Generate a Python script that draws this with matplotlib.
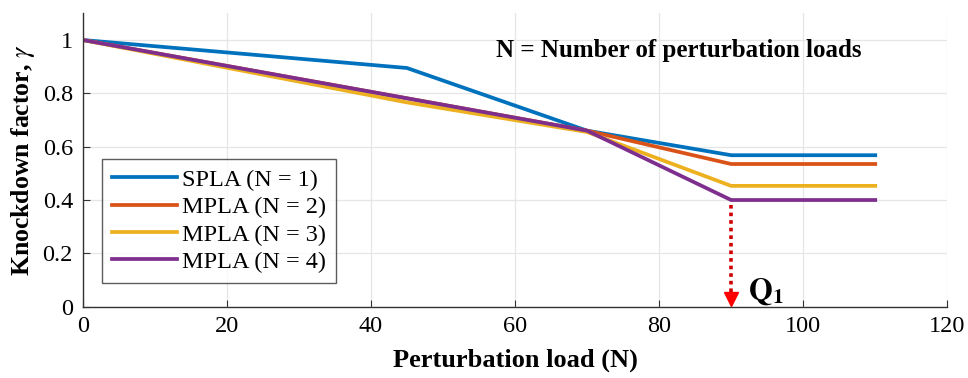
import matplotlib.pyplot as plt

# Data
load_spla = [0, 45, 70, 90, 110]
gamma_spla = [1.0, 0.895, 0.66, 0.568, 0.568]

load_n2 = [0, 70, 90, 110]
gamma_n2 = [1.0, 0.66, 0.535, 0.535]

load_n3 = [0, 45, 70, 90, 110]
gamma_n3 = [1.0, 0.766, 0.655, 0.453, 0.453]

load_n4 = [0, 70, 90, 110]
gamma_n4 = [1.0, 0.66, 0.40, 0.40]

labels = ['SPLA (N = 1)', 'MPLA (N = 2)', 'MPLA (N = 3)', 'MPLA (N = 4)']
colors = ['#0072BD', '#D95319', '#EDB120', '#7E2F8E']
q1_load = 90

plt.rcParams['font.family'] = ['Liberation Serif', 'DejaVu Serif']
plt.rcParams['mathtext.fontset'] = 'stix'

fig = plt.figure(figsize=(9.68, 3.78), dpi=100)
ax = fig.add_axes([0.0854, 0.1886, 0.8932, 0.7762])

series = [(load_spla, gamma_spla), (load_n2, gamma_n2),
          (load_n3, gamma_n3), (load_n4, gamma_n4)]
for (x, y), lab, c in zip(series, labels, colors):
    ax.plot(x, y, color=c, linewidth=2.7, label=lab, solid_joinstyle='miter')

# Q1 marker arrow
ax.plot([q1_load, q1_load], [gamma_n4[-1] - 0.02, 0.05], linestyle=(0, (1, 1.1)),
        color='#d00000', linewidth=2.6)
ax.plot(q1_load, 0.03, marker='v', color='red', markersize=10, clip_on=False)
ax.text(q1_load + 2.3, 0.0, r'$\mathbf{Q}_\mathbf{1}$', fontsize=22,
        ha='left', va='bottom')

ax.text(82.7, 0.962, 'N = Number of perturbation loads', fontsize=18,
        fontweight='bold', ha='center', va='center')

ax.set_xlim(0, 120)
ax.set_ylim(0, 1.1)
ax.set_xticks([0, 20, 40, 60, 80, 100, 120])
ax.set_yticks([0, 0.2, 0.4, 0.6, 0.8, 1])
ax.set_yticklabels(['0', '0.2', '0.4', '0.6', '0.8', '1'])
ax.tick_params(direction='in', length=5, labelsize=17.5, color='#333333', pad=7)
ax.grid(True, color='#e6e6e6', linewidth=0.9)
ax.set_axisbelow(True)
for s in ['top', 'right']:
    ax.spines[s].set_visible(False)
for s in ['left', 'bottom']:
    ax.spines[s].set_color('#333333')
    ax.spines[s].set_linewidth(1.0)

ax.set_xlabel('Perturbation load (N)', fontsize=19, fontweight='bold', labelpad=8)
ax.set_ylabel(r'Knockdown factor, $\gamma$', fontsize=18.5, fontweight='bold', labelpad=4)

leg = ax.legend(loc='upper left', bbox_to_anchor=(0.0225, 0.503), fontsize=17.5,
                frameon=True, fancybox=False, edgecolor='#333333',
                handlelength=2.7, handletextpad=0.2, borderpad=0.4,
                labelspacing=0.22, borderaxespad=0)
leg.get_frame().set_linewidth(1.0)

fig.savefig('out.png', dpi=100)
